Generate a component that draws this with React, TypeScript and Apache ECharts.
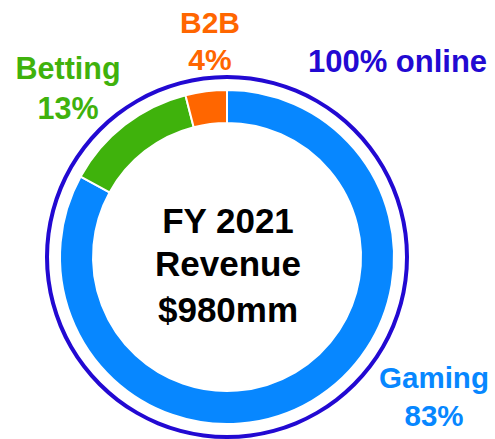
import React, { useEffect, useRef } from "react";
import * as echarts from "echarts";

const categories = ["Gaming", "Betting", "B2B"];
const shares = [83, 13, 4];
const colors = ["#0787FF", "#3FB20C", "#FF6600"];
const shareLabels = ["83%", "13%", "4%"];
const centerLines = ["FY 2021", "Revenue", "$980mm"];
const onlineLabel = "100% online";

const FONT = "'Liberation Sans', Arial, Helvetica, sans-serif";

export default function App() {
  const ref = useRef<HTMLDivElement>(null);
  useEffect(() => {
    if (!ref.current) return;
    const chart = echarts.init(ref.current, undefined, { renderer: "svg" });
    const cx = 227;
    const cy = 257;
    const labelPos: Record<string, [number, number, number, number]> = {
      Gaming: [434, 388, 426, 29.5],
      Betting: [68, 79, 119, 30.5],
      B2B: [210, 33, 70, 30],
    };
    const mid = (b: number, f: number) => b - 0.36 * f;
    const graphics: any[] = [];
    categories.forEach((c, i) => {
      const [x, b1, b2, fs] = labelPos[c];
      graphics.push({
        type: "text",
        x,
        y: mid(b1, fs),
        style: { text: c, fill: colors[i], font: `bold ${fs}px ${FONT}`, align: "center", verticalAlign: "middle" },
      });
      graphics.push({
        type: "text",
        x,
        y: mid(b2, fs),
        style: { text: shareLabels[i], fill: colors[i], font: `bold ${fs}px ${FONT}`, align: "center", verticalAlign: "middle" },
      });
    });
    graphics.push({
      type: "text",
      x: 397.5,
      y: mid(73, 31),
      style: { text: onlineLabel, fill: "#2209D2", font: `bold 31px ${FONT}`, align: "center", verticalAlign: "middle" },
    });
    const cBase = [233, 276, 322];
    centerLines.forEach((t, i) => {
      graphics.push({
        type: "text",
        x: 228,
        y: mid(cBase[i], 35),
        style: { text: t, fill: "#000000", font: `bold 35px ${FONT}`, align: "center", verticalAlign: "middle" },
      });
    });
    chart.setOption({
      animation: false,
      backgroundColor: "#ffffff",
      series: [
        {
          type: "pie",
          center: [cx, cy],
          radius: [134, 167],
          startAngle: 90,
          clockwise: true,
          silent: true,
          label: { show: false },
          labelLine: { show: false },
          itemStyle: { borderColor: "#ffffff", borderWidth: 2 },
          data: categories.map((c, i) => ({ name: c, value: shares[i], itemStyle: { color: colors[i] } })),
        },
        {
          type: "pie",
          center: [cx, cy],
          radius: [178, 182],
          silent: true,
          label: { show: false },
          labelLine: { show: false },
          itemStyle: { color: "#2209D2" },
          data: [{ name: "online", value: 100 }],
        },
      ],
      graphic: graphics,
    });
    return () => chart.dispose();
  }, []);
  return <div ref={ref} style={{ position: "fixed", left: 0, top: 0, width: 495, height: 439 }} />;
}
